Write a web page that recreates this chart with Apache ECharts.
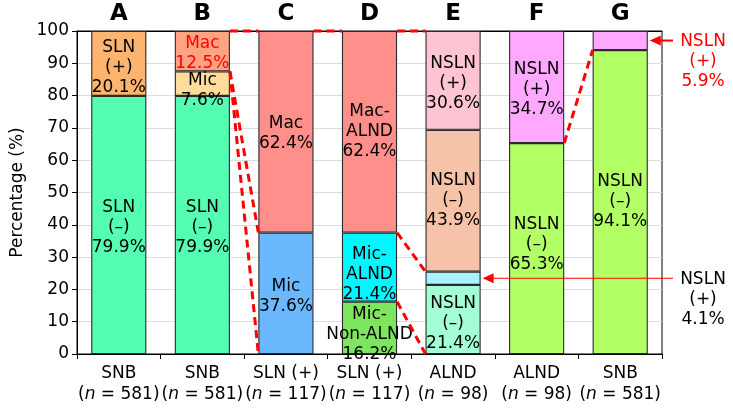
<!DOCTYPE html>
<html>
<head>
<meta charset="utf-8">
<script src="https://cdn.jsdelivr.net/npm/echarts@6/dist/echarts.min.js"></script>
<style>
  html, body { margin: 0; padding: 0; background: #fff; }
  #chart { width: 733px; height: 412px; }
</style>
</head>
<body>
<div id="chart"></div>
<script>
// bar headings and x categories
const letters = ['A', 'B', 'C', 'D', 'E', 'F', 'G'];
const groups = ['SNB', 'SNB', 'SLN (+)', 'SLN (+)', 'ALND', 'ALND', 'SNB'];
const groupN = [581, 581, 117, 117, 98, 98, 581];

// stacked segments, bottom to top (%)
const layer1 = [79.9, 79.9, 37.6, 16.2, 21.4, 65.3, 94.1];
const layer2 = [20.1, 7.6, 62.4, 21.4, 4.1, 34.7, 5.9];
const layer3 = [null, 12.5, null, 62.4, 43.9, null, null];
const layer4 = [null, null, null, null, 30.6, null, null];

const names1 = ['SLN\n(–)', 'SLN\n(–)', 'Mic', 'Mic-\nNon-ALND', 'NSLN\n(–)', 'NSLN\n(–)', 'NSLN\n(–)'];
const names2 = ['SLN\n(+)', 'Mic', 'Mac', 'Mic-\nALND', 'NSLN\n(+)', 'NSLN\n(+)', 'NSLN\n(+)'];
const names3 = [null, 'Mac', null, 'Mac-\nALND', 'NSLN\n(–)', null, null];
const names4 = [null, null, null, null, 'NSLN\n(+)', null, null];

// segments labelled outside the plot with an arrow: [bar, layer]
const outside = [[6, 1], [4, 1]];

// connectors: [fromBar, fromLevel, toBar, toLevel] (level = layers below)
const links = [[1, 2, 2, 0], [1, 2, 2, 1], [1, 3, 2, 2], [2, 2, 3, 3],
               [3, 3, 4, 4], [3, 2, 4, 2], [3, 1, 4, 0], [5, 1, 6, 1]];

// styles
const colors = [
  ['#55fdb3', '#55fdb3', '#6cb8ff', '#7de65e', '#a3ffd3', '#b3ff66', '#b3ff66'],
  ['#fdb46e', '#ffdc9c', '#ff8f8a', '#00f7ff', '#aaf0ff', '#ffa8ff', '#ffa8ff'],
  [null, '#ffa382', null, '#ff8f8a', '#f7c3a8', null, null],
  [null, null, null, null, '#ffc4d2', null, null]
];
const offsets = [
  [3, 3, 3, 7, 4, -4, 0],
  [4, 7, 2, 7, 0, 3, 0],
  [0, 2, 0, 0, 0, 0, 0],
  [0, 0, 0, 0, 3, 0, 0]
];
const outsideColors = ['#ff0000', '#000000'];
const FONT = 'DejaVu Sans';
const BAR = 0.66;

const layers = [layer1, layer2, layer3, layer4];
const names = [names1, names2, names3, names4];

function level(bar, lv) {
  let s = 0;
  for (let k = 0; k < lv; k++) s += layers[k][bar] || 0;
  return s;
}

const barSeries = layers.map(function (arr, k) {
  return {
    type: 'bar',
    stack: 'total',
    barWidth: (BAR * 100) + '%',
    z: 2,
    data: arr.map(function (v, i) {
      if (v == null) return null;
      const isOut = outside.some(function (o) { return o[0] === i && o[1] === k; });
      return {
        value: v,
        itemStyle: { color: colors[k][i] },
        label: {
          show: !isOut,
          color: (i === 1 && k === 2) ? '#ff0000' : '#000',
          offset: [0, offsets[k][i]]
        }
      };
    }),
    itemStyle: { borderColor: '#2a2a2a', borderWidth: 1.1 },
    label: {
      show: true,
      position: 'inside',
      fontFamily: FONT,
      fontSize: 17,
      lineHeight: 20,
      formatter: function (p) {
        return names[k][p.dataIndex] + '\n' + p.value.toFixed(1) + '%';
      }
    }
  };
});

const linkData = links.map(function (l) {
  return [l[0], level(l[0], l[1]), l[2], level(l[2], l[3])];
});

const outsideData = outside.map(function (o) {
  return [o[0], level(o[0], o[1]) + layers[o[1]][o[0]] / 2, o[1]];
});

const chart = echarts.init(document.getElementById('chart'));
chart.setOption({
  animation: false,
  textStyle: { fontFamily: FONT },
  grid: { left: 77, right: 71, top: 31, bottom: 58, show: true, borderColor: '#000', borderWidth: 1 },
  xAxis: [{
    type: 'category',
    data: groups,
    axisLine: { lineStyle: { color: '#000', width: 1 } },
    axisTick: { show: true, length: 5, lineStyle: { color: '#000' } },
    axisLabel: {
      color: '#000',
      fontSize: 17,
      lineHeight: 21,
      margin: 9,
      interval: 0,
      formatter: function (v, i) {
        return v + '\n({it|n} = ' + groupN[i] + ')';
      },
      rich: { it: { fontStyle: 'italic', fontSize: 17, lineHeight: 21, color: '#000' } }
    }
  }, {
    type: 'category',
    position: 'top',
    data: letters,
    axisLine: { show: true, lineStyle: { color: '#000' } },
    axisTick: { show: false },
    axisLabel: { color: '#000', fontSize: 23, fontWeight: 'bold', margin: 5 }
  }],
  yAxis: {
    type: 'value',
    min: 0,
    max: 100,
    interval: 10,
    name: 'Percentage (%)',
    nameLocation: 'middle',
    nameGap: 48,
    nameTextStyle: { color: '#000', fontSize: 17 },
    axisLine: { show: true, lineStyle: { color: '#000' } },
    axisTick: { show: true, length: 5, lineStyle: { color: '#000' } },
    axisLabel: { color: '#000', fontSize: 17, margin: 8 },
    splitLine: { lineStyle: { color: '#dddddd' } }
  },
  series: barSeries.concat([{
    type: 'custom',
    z: 5,
    encode: { x: 0, y: 1 },
    data: linkData,
    renderItem: function (params, api) {
      const half = api.size([1, 0])[0] * BAR / 2;
      const a = api.coord([api.value(0), api.value(1)]);
      const b = api.coord([api.value(2), api.value(3)]);
      return {
        type: 'line',
        shape: { x1: a[0] + half, y1: a[1], x2: b[0] - half, y2: b[1] },
        style: { stroke: '#ff0000', lineWidth: 3, lineDash: [8, 5] }
      };
    }
  }, {
    type: 'custom',
    z: 6,
    encode: { x: 0, y: 1 },
    data: outsideData,
    renderItem: function (params, api) {
      const idx = params.dataIndex;
      const half = api.size([1, 0])[0] * BAR / 2;
      const p = api.coord([api.value(0), api.value(1)]);
      const cs = params.coordSys;
      const right = cs.x + cs.width;
      const x0 = p[0] + half + 2;
      const y = p[1];
      const col = outsideColors[idx];
      const bar = api.value(0), lay = api.value(2);
      const txt = names[lay][bar] + '\n' + layers[lay][bar].toFixed(1) + '%';
      return {
        type: 'group',
        children: [{
          type: 'line',
          shape: { x1: x0 + 8, y1: y, x2: right + 11, y2: y },
          style: { stroke: '#ff0000', lineWidth: idx === 0 ? 2 : 1 }
        }, {
          type: 'polygon',
          shape: { points: [[x0, y], [x0 + 11, y - 5], [x0 + 11, y + 5]] },
          style: { fill: '#ff0000' }
        }, {
          type: 'text',
          style: {
            x: right + 41, y: y - 9,
            text: txt,
            fill: col,
            font: '17px "DejaVu Sans"',
            lineHeight: 20,
            align: 'center',
            verticalAlign: 'top'
          }
        }]
      };
    }
  }])
});
</script>
</body>
</html>
